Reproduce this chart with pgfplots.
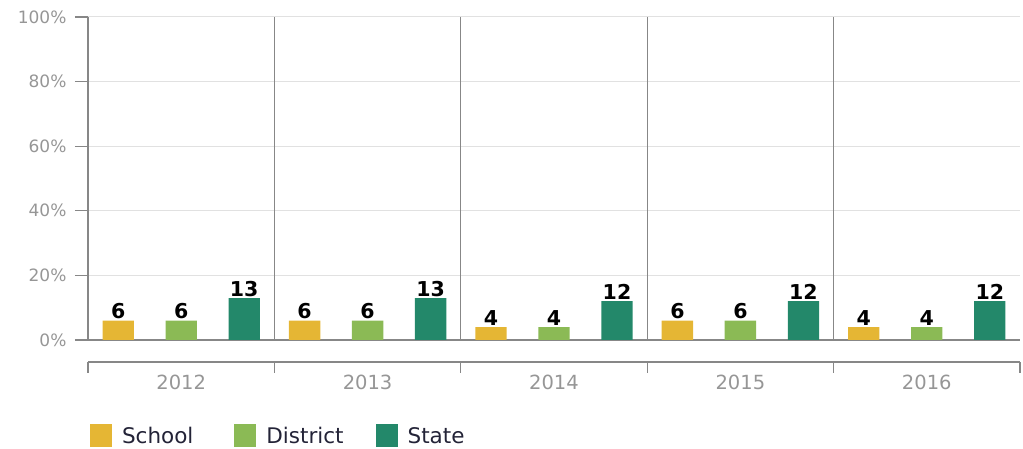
\documentclass[border=0pt]{standalone}
\usepackage{fontspec}
\setmainfont{DejaVu Sans}
\usepackage{pgfplots}
\pgfplotsset{compat=1.18}
\definecolor{cschool}{RGB}{229,182,52}
\definecolor{cdistrict}{RGB}{139,186,85}
\definecolor{cstate}{RGB}{35,136,106}
\definecolor{axisgray}{RGB}{135,135,135}
\definecolor{labgray}{RGB}{150,150,150}
\definecolor{gridgray}{RGB}{225,225,225}
\definecolor{legtext}{RGB}{35,35,55}
\begin{document}
\begin{tikzpicture}[x=1pt,y=1pt]
\path[use as bounding box] (0,0) rectangle (1023,449);
\begin{axis}[
  at={(88pt,109pt)}, anchor=south west,
  scale only axis, width=932pt, height=323pt,
  xmin=-0.5, xmax=4.5, ymin=0, ymax=100,
  axis x line=none, axis y line=left,
  y axis line style={draw=axisgray, line width=1.3pt, -},
  ytick={0,20,40,60,80,100},
  yticklabel={\pgfmathprintnumber{\tick}\%},
  /pgf/number format/assume math mode=true,
  yticklabel style={font=\fontsize{17}{17}\selectfont, text=labgray, xshift=-5pt},
  tick align=outside, major tick length=13pt,
  ytick style={draw=axisgray, line width=1.3pt},
  ymajorgrids, grid style={draw=gridgray, line width=1pt},
  ybar, bar width=0.168,
  nodes near coords,
  every node near coord/.append style={font=\bfseries\fontsize{20.5}{20.5}\selectfont, text=black, inner sep=1.5pt, anchor=south},
  legend columns=3,
  legend style={at={(0.002,-0.297)}, anchor=west, draw=none, fill=none, inner sep=0pt,
    font=\fontsize{21.5}{21.5}\selectfont, text=legtext,
    /tikz/column 1/.style={column sep=8pt},
    /tikz/column 2/.style={column sep=39pt},
    /tikz/column 3/.style={column sep=8pt},
    /tikz/column 4/.style={column sep=30pt},
    /tikz/column 5/.style={column sep=8pt}},
  legend image code/.code={\fill[#1] (0pt,-11.5pt) rectangle (22pt,11.5pt);},
  clip=false,
]
\draw[axisgray, line width=1.3pt] (axis cs:-0.5,0) -- (axis cs:4.5,0);
\draw[axisgray, line width=1.3pt] (axis cs:0.5,0) -- (axis cs:0.5,100);
\draw[axisgray, line width=1.3pt] (axis cs:1.5,0) -- (axis cs:1.5,100);
\draw[axisgray, line width=1.3pt] (axis cs:2.5,0) -- (axis cs:2.5,100);
\draw[axisgray, line width=1.3pt] (axis cs:3.5,0) -- (axis cs:3.5,100);
\addplot[fill=cschool, draw=none, bar shift=-0.338] coordinates {(0,6) (1,6) (2,4) (3,6) (4,4)};
\addplot[fill=cdistrict, draw=none, bar shift=0] coordinates {(0,6) (1,6) (2,4) (3,6) (4,4)};
\addplot[fill=cstate, draw=none, bar shift=0.338] coordinates {(0,13) (1,13) (2,12) (3,12) (4,12)};
\legend{School, District, State}
\end{axis}
\begin{axis}[
  at={(88pt,87pt)}, anchor=south west,
  scale only axis, width=932pt, height=1pt,
  xmin=-0.5, xmax=4.5, ymin=0, ymax=1,
  axis x line=bottom, axis y line=none,
  x axis line style={draw=axisgray, line width=1.3pt, -},
  xtick={0,1,2,3,4}, xticklabels={2012,2013,2014,2015,2016},
  minor xtick={-0.5,0.5,1.5,2.5,3.5,4.5},
  tick align=outside, major tick length=0pt, minor tick length=11pt,
  xtick style={draw=axisgray, line width=1.3pt},
  xticklabel style={font=\fontsize{19.5}{19.5}\selectfont, text=labgray, yshift=-9pt},
]
\end{axis}
\end{tikzpicture}
\end{document}
